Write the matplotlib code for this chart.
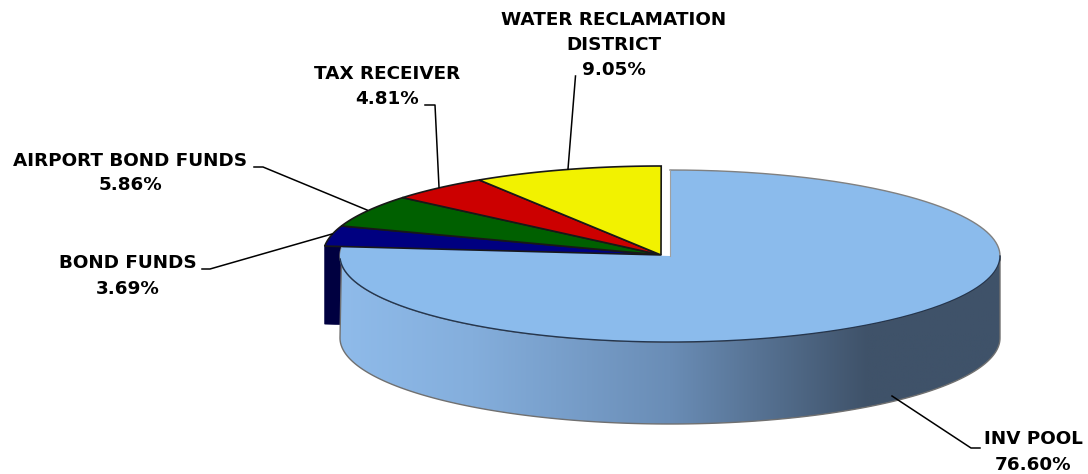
import numpy as np
import matplotlib.pyplot as plt
from matplotlib.colors import LinearSegmentedColormap
from matplotlib.patches import Polygon

# Values
labels = ['INV POOL', 'BOND FUNDS', 'AIRPORT BOND FUNDS', 'TAX RECEIVER', 'WATER RECLAMATION\nDISTRICT']
shares = [76.60, 3.69, 5.86, 4.81, 9.05]
colors = ['#8BBBEC', '#000080', '#006000', '#CC0000', '#F2F200']

# Label placement (pixels) and leader lines
label_pos = [(1033, 452), (128, 276), (130, 173), (387, 86), (614, 45)]
leaders = [[(892, 396), (971, 448), (980, 448)],
           [(332, 234), (210, 269), (202, 269)],
           [(367, 210), (263, 167), (254, 167)],
           [(439, 187), (435, 105), (425, 105)],
           [(568, 169), (575.5, 76)]]

W, H = 1088, 474
fig = plt.figure(figsize=(W / 100, H / 100), dpi=100)
ax = fig.add_axes([0, 0, 1, 1])
ax.set_xlim(0, W)
ax.set_ylim(H, 0)
ax.axis('off')


def rim(cx, cy, rx, ry, a, b, dy=0):
    # points on the ellipse, angles in degrees clockwise from top
    t = np.radians(np.linspace(a, b, 200))
    return np.column_stack([cx + rx * np.sin(t), cy - ry * np.cos(t) + dy])


ends = np.cumsum(shares) * 3.6
starts = np.r_[0, ends[:-1]]

# big slice geometry, the rest of the pie sits a little up and left
big_c = (670, 256)
big_r = (330, 86)
rest_c = (661, 255)
rest_r = (338, 89)
depth = 82

# cut face of the bond funds slice, mostly hidden behind the big slice
edge = rim(*rest_c, *rest_r, starts[1], starts[1])[0]
blue_side = [edge, rest_c, (rest_c[0], rest_c[1] + 78), (edge[0], edge[1] + 78)]
ax.add_patch(Polygon(blue_side, closed=True, fc='#000040', ec='#000040', lw=0.5, zorder=1))

# other slices
for i in range(1, 5):
    pts = np.vstack([[rest_c], rim(*rest_c, *rest_r, starts[i], ends[i])])
    ax.add_patch(Polygon(pts, closed=True, fc=colors[i], ec='#181818', lw=1.2, zorder=2))

# side wall of big slice with shading
side = np.vstack([rim(*big_c, *big_r, 90, ends[0]), rim(*big_c, *big_r, 270, 90, depth)])
grad_cmap = LinearSegmentedColormap.from_list('side', [(0, '#8FBBEA'), (0.2, '#84AEDC'), (0.5, '#6A8DB6'),
                                                      (0.8, '#3F5269'), (1, '#3F5269')])
side_patch = Polygon(side, closed=True, fc='none', ec='#707070', lw=1, zorder=3)
ax.add_patch(side_patch)
im = ax.imshow(np.linspace(0, 1, 256)[None, :], cmap=grad_cmap, extent=(340, 1000, 430, 240),
               aspect='auto', zorder=2.5)
im.set_clip_path(side_patch)
ax.set_xlim(0, W)
ax.set_ylim(H, 0)

# top of big slice
top = np.vstack([[big_c], rim(*big_c, *big_r, starts[0], ends[0])])
ax.add_patch(Polygon(top, closed=True, fc=colors[0], ec='none', zorder=4))
ax.plot(*rim(*big_c, *big_r, 0, 90).T, color='#808080', lw=1, zorder=5)
ax.plot(*rim(*big_c, *big_r, 90, 268).T, color='#24364F', lw=1, zorder=5)
ax.plot([big_c[0], big_c[0]], [big_c[1], big_c[1] - big_r[1]], color='#A0A0A0', lw=0.8, zorder=5)

# labels
for name, share, pos, line in zip(labels, shares, label_pos, leaders):
    ax.text(pos[0], pos[1], f'{name}\n{share:.2f}%', ha='center', va='center', fontsize=13.2,
            fontweight='bold', family='DejaVu Sans', linespacing=1.5, color='black', zorder=7)
    ax.plot(*np.array(line).T, color='black', lw=1.1, zorder=6)

fig.savefig('out.png', dpi=100)
